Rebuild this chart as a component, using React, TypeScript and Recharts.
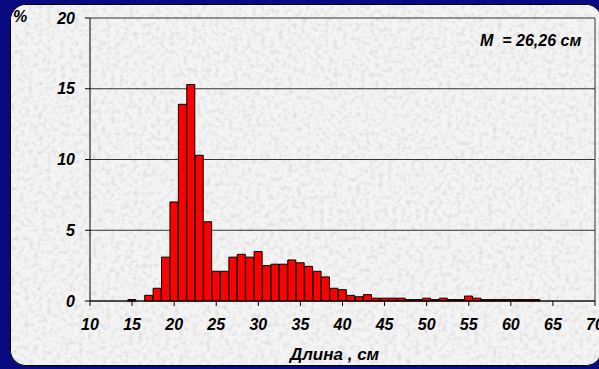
import { BarChart, Bar, XAxis, YAxis, CartesianGrid, ReferenceLine } from 'recharts'

// длина, см (центры интервалов по 1 см)
const lengths = [15, 16, 17, 18, 19, 20, 21, 22, 23, 24, 25, 26, 27, 28, 29, 30, 31, 32, 33, 34, 35, 36, 37, 38, 39,
  40, 41, 42, 43, 44, 45, 46, 47, 48, 49, 50, 51, 52, 53, 54, 55, 56, 57, 58, 59, 60, 61, 62, 63]
// доля, %
const shares = [0.1, 0, 0.4, 0.9, 3.1, 7.0, 13.9, 15.3, 10.3, 5.6, 2.1, 2.1, 3.1, 3.3, 3.1, 3.5, 2.5, 2.6, 2.6, 2.9, 2.7,
  2.45, 2.1, 1.7, 0.9, 0.8, 0.4, 0.3, 0.45, 0.2, 0.2, 0.2, 0.2, 0.1, 0.1, 0.2, 0.1, 0.2, 0.1, 0.1, 0.35, 0.2,
  0.1, 0.1, 0.1, 0.1, 0.1, 0.1, 0.1]
const xTicks = [10, 15, 20, 25, 30, 35, 40, 45, 50, 55, 60, 65, 70]
const yTicks = [0, 5, 10, 15, 20]

const data = lengths.map((l, i) => ({ l, v: shares[i] }))

const font = '"Liberation Sans", Arial, sans-serif'
const tickStyle = { fontSize: 16, fontWeight: 700, fontStyle: 'italic', fill: '#000', fontFamily: font }
const label = { position: 'absolute' as const, fontFamily: font, fontWeight: 700, fontStyle: 'italic', whiteSpace: 'pre' as const }

export default function App() {
  return (
    <div style={{ position: 'absolute', left: 0, top: 0, width: 599, height: 369, background: '#0a0a80', overflow: 'hidden' }}>
      <div style={{
        position: 'absolute', left: 10, top: 4, width: 592, height: 362, overflow: 'hidden',
        background: '#ebebeb', border: '1px solid #000', borderRadius: 16, boxSizing: 'border-box',
      }}>
        {/* мелкая мраморная текстура фона */}
        <svg width={592} height={362} style={{ position: 'absolute', left: 0, top: 0 }}>
          <filter id="marble">
            <feTurbulence type="fractalNoise" baseFrequency="0.22" numOctaves={2} seed={4} />
            <feColorMatrix type="matrix" values="0 0 0 0 0  0 0 0 0 0  0 0 0 0 0  0 0 0 -2.2 1.25" />
          </filter>
          <rect width={592} height={362} fill="#f4f4f4" />
          <rect width={592} height={362} filter="url(#marble)" opacity={0.09} />
        </svg>
      </div>
      <div style={{ position: 'absolute', left: 0, top: 0 }}>
        <BarChart width={599} height={369} data={data} barCategoryGap={0}
          margin={{ top: 18, right: 4, bottom: 38, left: 10 }}>
          <CartesianGrid vertical={false} stroke="#333" strokeWidth={1} horizontalValues={yTicks} />
          <XAxis dataKey="l" type="number" domain={[10, 70]} ticks={xTicks} interval={0}
            height={30} tickSize={5} stroke="#000" tick={tickStyle} tickMargin={13} allowDataOverflow />
          <YAxis domain={[0, 20]} ticks={yTicks} width={80} tickSize={5} stroke="#000"
            tick={tickStyle} tickMargin={10} />
          <ReferenceLine x={70} stroke="#333" />
          <Bar dataKey="v" fill="#ff0000" stroke="#000" strokeWidth={1} isAnimationActive={false} />
        </BarChart>
      </div>
      <div style={{ ...label, left: 13, top: 8, fontSize: 16 }}>%</div>
      <div style={{ ...label, left: 480, top: 32, fontSize: 16 }}>M  = 26,26 см</div>
      <div style={{ ...label, left: 290, top: 345, fontSize: 17 }}>Длина , см</div>
    </div>
  )
}
